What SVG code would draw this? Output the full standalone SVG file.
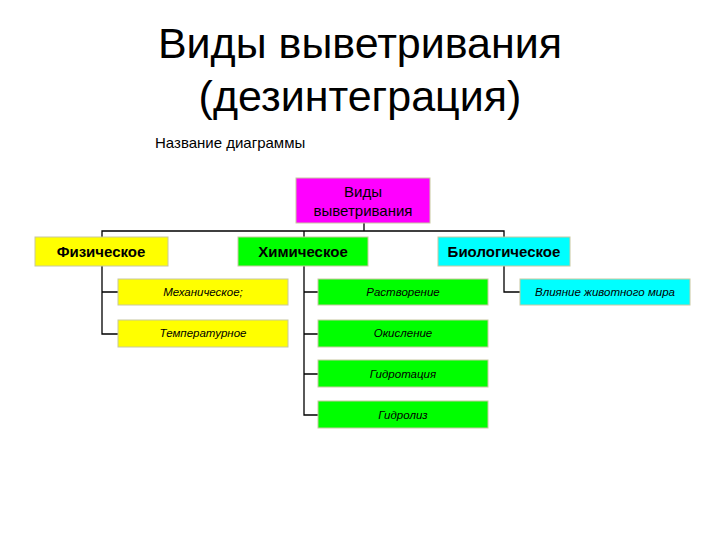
<svg xmlns="http://www.w3.org/2000/svg" width="720" height="540" viewBox="0 0 720 540">
<style>
text{font-family:"Liberation Sans",Arial,sans-serif;fill:#000}
.b{stroke:#c8c8a0;stroke-width:1}
.y{fill:#ffff00}.g{fill:#00ff00}.c{fill:#00ffff}.m{fill:#ff00ff}
.h{font-size:15px;text-anchor:middle;font-weight:bold}
.s{font-size:11.5px;text-anchor:middle;font-style:italic}
#conn path{fill:none;stroke:#000;stroke-width:1.3}
</style>
<rect width="720" height="540" fill="#fff"/>
<text x="360" y="58" font-size="43" text-anchor="middle">Виды выветривания</text>
<text x="360" y="111" font-size="43" text-anchor="middle">(дезинтеграция)</text>
<text x="155" y="148" font-size="15">Название диаграммы</text>
<g id="conn">
<path d="M364 223V231M102 237V231H504V237M304 231V237"/>
<path d="M102 266V334H118M102 292H118"/>
<path d="M304 266V415H318M304 292H318M304 334H318M304 374H318"/>
<path d="M504 266V292H520"/>
</g>
<g id="root"><rect class="m b" x="296" y="178" width="134" height="45"/><text class="h" x="363" y="197" style="font-weight:normal">Виды</text><text class="h" x="363" y="216" style="font-weight:normal">выветривания</text></g>
<g id="phys"><rect class="y b" x="35" y="237" width="133" height="29"/><text class="h" x="101" y="257">Физическое</text></g>
<g id="chem"><rect class="g b" x="238" y="237" width="130" height="29"/><text class="h" x="303" y="257">Химическое</text></g>
<g id="bio"><rect class="c b" x="438" y="237" width="132" height="29"/><text class="h" x="504" y="257">Биологическое</text></g>
<g id="mech"><rect class="y b" x="118" y="279" width="170" height="26"/><text class="s" x="203" y="296">Механическое;</text></g>
<g id="temp"><rect class="y b" x="118" y="320" width="170" height="27"/><text class="s" x="203" y="337">Температурное</text></g>
<g id="rast"><rect class="g b" x="318" y="279" width="170" height="26"/><text class="s" x="403" y="296">Растворение</text></g>
<g id="okis"><rect class="g b" x="318" y="320" width="170" height="27"/><text class="s" x="403" y="337">Окисление</text></g>
<g id="gidrot"><rect class="g b" x="318" y="360" width="170" height="27"/><text class="s" x="403" y="378">Гидротация</text></g>
<g id="gidrol"><rect class="g b" x="318" y="401" width="170" height="27"/><text class="s" x="403" y="419">Гидролиз</text></g>
<g id="vliy"><rect class="c b" x="520" y="279" width="170" height="26"/><text class="s" x="605" y="296">Влияние животного мира</text></g>
</svg>
